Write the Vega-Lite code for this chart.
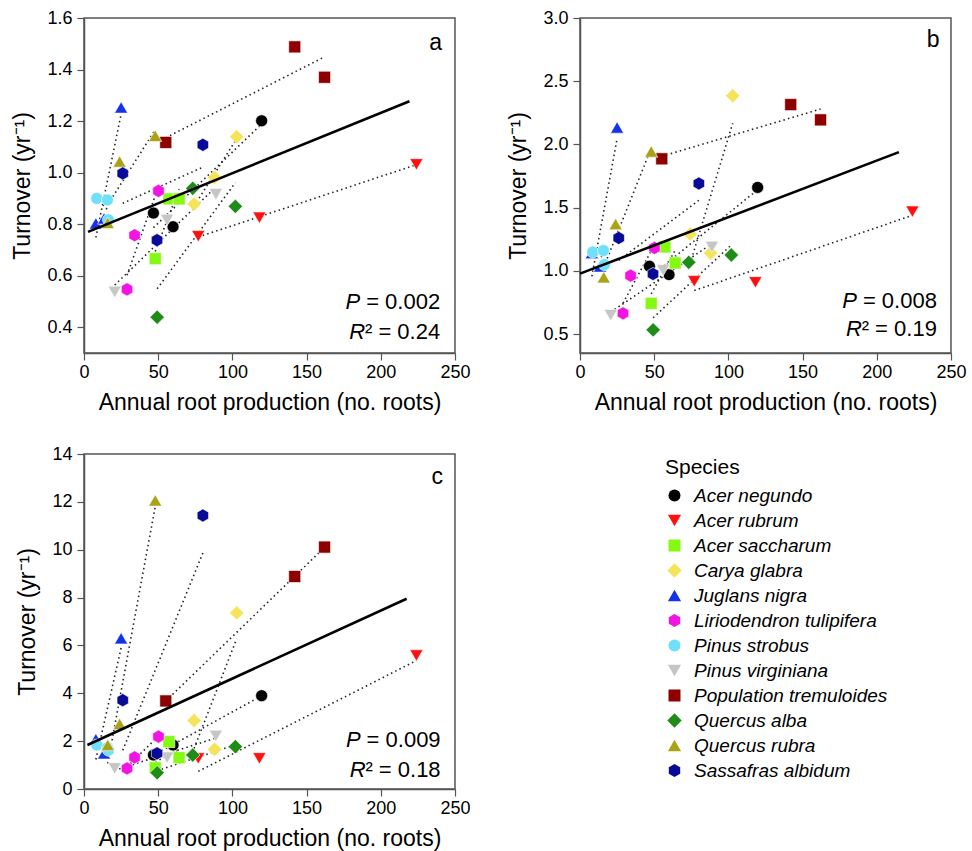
{
  "$schema": "https://vega.github.io/schema/vega-lite/v6.json",
  "padding": {"left": 11, "top": 8, "right": 5, "bottom": 5},
  "background": "white",
  "datasets": {
    "pts": [
      {"panel":"a","species":"Acer negundo","x":46.8,"y":0.843},
      {"panel":"a","species":"Acer negundo","x":60.0,"y":0.790},
      {"panel":"a","species":"Acer negundo","x":119.7,"y":1.201},
      {"panel":"a","species":"Acer rubrum","x":77.0,"y":0.753},
      {"panel":"a","species":"Acer rubrum","x":118.2,"y":0.825},
      {"panel":"a","species":"Acer rubrum","x":224.0,"y":1.032},
      {"panel":"a","species":"Acer saccharum","x":48.0,"y":0.666},
      {"panel":"a","species":"Acer saccharum","x":57.2,"y":0.898},
      {"panel":"a","species":"Acer saccharum","x":64.1,"y":0.898},
      {"panel":"a","species":"Carya glabra","x":74.2,"y":0.878},
      {"panel":"a","species":"Carya glabra","x":88.0,"y":0.981},
      {"panel":"a","species":"Carya glabra","x":102.9,"y":1.139},
      {"panel":"a","species":"Juglans nigra","x":8.0,"y":0.803},
      {"panel":"a","species":"Juglans nigra","x":13.5,"y":0.822},
      {"panel":"a","species":"Juglans nigra","x":25.0,"y":1.253},
      {"panel":"a","species":"Liriodendron tulipifera","x":29.0,"y":0.547},
      {"panel":"a","species":"Liriodendron tulipifera","x":34.1,"y":0.757},
      {"panel":"a","species":"Liriodendron tulipifera","x":50.2,"y":0.929},
      {"panel":"a","species":"Pinus strobus","x":8.6,"y":0.900},
      {"panel":"a","species":"Pinus strobus","x":15.8,"y":0.894},
      {"panel":"a","species":"Pinus strobus","x":16.5,"y":0.817},
      {"panel":"a","species":"Pinus virginiana","x":20.7,"y":0.537},
      {"panel":"a","species":"Pinus virginiana","x":56.0,"y":0.816},
      {"panel":"a","species":"Pinus virginiana","x":88.9,"y":0.916},
      {"panel":"a","species":"Population tremuloides","x":55.1,"y":1.117},
      {"panel":"a","species":"Population tremuloides","x":142.0,"y":1.488},
      {"panel":"a","species":"Population tremuloides","x":162.1,"y":1.370},
      {"panel":"a","species":"Quercus alba","x":49.3,"y":0.439},
      {"panel":"a","species":"Quercus alba","x":73.3,"y":0.939},
      {"panel":"a","species":"Quercus alba","x":102.0,"y":0.869},
      {"panel":"a","species":"Quercus rubra","x":16.0,"y":0.805},
      {"panel":"a","species":"Quercus rubra","x":24.0,"y":1.043},
      {"panel":"a","species":"Quercus rubra","x":48.0,"y":1.143},
      {"panel":"a","species":"Sassafras albidum","x":26.1,"y":0.997},
      {"panel":"a","species":"Sassafras albidum","x":49.2,"y":0.738},
      {"panel":"a","species":"Sassafras albidum","x":80.1,"y":1.108},

      {"panel":"b","species":"Acer negundo","x":46.8,"y":1.036},
      {"panel":"b","species":"Acer negundo","x":60.0,"y":0.970},
      {"panel":"b","species":"Acer negundo","x":119.7,"y":1.660},
      {"panel":"b","species":"Acer rubrum","x":77.0,"y":0.917},
      {"panel":"b","species":"Acer rubrum","x":118.2,"y":0.909},
      {"panel":"b","species":"Acer rubrum","x":224.0,"y":1.468},
      {"panel":"b","species":"Acer saccharum","x":48.0,"y":0.743},
      {"panel":"b","species":"Acer saccharum","x":57.2,"y":1.189},
      {"panel":"b","species":"Acer saccharum","x":64.1,"y":1.062},
      {"panel":"b","species":"Carya glabra","x":74.2,"y":1.291},
      {"panel":"b","species":"Carya glabra","x":88.0,"y":1.141},
      {"panel":"b","species":"Carya glabra","x":102.9,"y":2.384},
      {"panel":"b","species":"Juglans nigra","x":8.0,"y":1.141},
      {"panel":"b","species":"Juglans nigra","x":13.5,"y":1.035},
      {"panel":"b","species":"Juglans nigra","x":25.0,"y":2.134},
      {"panel":"b","species":"Liriodendron tulipifera","x":29.0,"y":0.664},
      {"panel":"b","species":"Liriodendron tulipifera","x":34.1,"y":0.962},
      {"panel":"b","species":"Liriodendron tulipifera","x":50.2,"y":1.181},
      {"panel":"b","species":"Pinus strobus","x":8.6,"y":1.149},
      {"panel":"b","species":"Pinus strobus","x":15.8,"y":1.160},
      {"panel":"b","species":"Pinus strobus","x":16.5,"y":1.049},
      {"panel":"b","species":"Pinus virginiana","x":20.7,"y":0.649},
      {"panel":"b","species":"Pinus virginiana","x":56.0,"y":1.004},
      {"panel":"b","species":"Pinus virginiana","x":88.9,"y":1.189},
      {"panel":"b","species":"Population tremuloides","x":55.1,"y":1.886},
      {"panel":"b","species":"Population tremuloides","x":142.0,"y":2.315},
      {"panel":"b","species":"Population tremuloides","x":162.1,"y":2.194},
      {"panel":"b","species":"Quercus alba","x":49.3,"y":0.533},
      {"panel":"b","species":"Quercus alba","x":73.3,"y":1.067},
      {"panel":"b","species":"Quercus alba","x":102.0,"y":1.125},
      {"panel":"b","species":"Quercus rubra","x":16.0,"y":0.949},
      {"panel":"b","species":"Quercus rubra","x":24.0,"y":1.370},
      {"panel":"b","species":"Quercus rubra","x":48.0,"y":1.944},
      {"panel":"b","species":"Sassafras albidum","x":26.1,"y":1.260},
      {"panel":"b","species":"Sassafras albidum","x":49.2,"y":0.975},
      {"panel":"b","species":"Sassafras albidum","x":80.1,"y":1.691},

      {"panel":"c","species":"Acer negundo","x":46.8,"y":1.42},
      {"panel":"c","species":"Acer negundo","x":60.0,"y":1.84},
      {"panel":"c","species":"Acer negundo","x":119.7,"y":3.90},
      {"panel":"c","species":"Acer rubrum","x":77.0,"y":1.28},
      {"panel":"c","species":"Acer rubrum","x":118.2,"y":1.28},
      {"panel":"c","species":"Acer rubrum","x":224.0,"y":5.58},
      {"panel":"c","species":"Acer saccharum","x":48.0,"y":0.89},
      {"panel":"c","species":"Acer saccharum","x":57.2,"y":1.98},
      {"panel":"c","species":"Acer saccharum","x":64.1,"y":1.31},
      {"panel":"c","species":"Carya glabra","x":74.2,"y":2.86},
      {"panel":"c","species":"Carya glabra","x":88.0,"y":1.66},
      {"panel":"c","species":"Carya glabra","x":102.9,"y":7.36},
      {"panel":"c","species":"Juglans nigra","x":8.0,"y":2.08},
      {"panel":"c","species":"Juglans nigra","x":13.5,"y":1.49},
      {"panel":"c","species":"Juglans nigra","x":25.0,"y":6.30},
      {"panel":"c","species":"Liriodendron tulipifera","x":29.0,"y":0.86},
      {"panel":"c","species":"Liriodendron tulipifera","x":34.1,"y":1.32},
      {"panel":"c","species":"Liriodendron tulipifera","x":50.2,"y":2.19},
      {"panel":"c","species":"Pinus strobus","x":8.6,"y":1.84},
      {"panel":"c","species":"Pinus strobus","x":15.8,"y":1.72},
      {"panel":"c","species":"Pinus strobus","x":16.5,"y":1.62},
      {"panel":"c","species":"Pinus virginiana","x":20.7,"y":0.86},
      {"panel":"c","species":"Pinus virginiana","x":56.0,"y":1.31},
      {"panel":"c","species":"Pinus virginiana","x":88.9,"y":2.22},
      {"panel":"c","species":"Population tremuloides","x":55.1,"y":3.68},
      {"panel":"c","species":"Population tremuloides","x":142.0,"y":8.88},
      {"panel":"c","species":"Population tremuloides","x":162.1,"y":10.11},
      {"panel":"c","species":"Quercus alba","x":49.3,"y":0.68},
      {"panel":"c","species":"Quercus alba","x":73.3,"y":1.42},
      {"panel":"c","species":"Quercus alba","x":102.0,"y":1.77},
      {"panel":"c","species":"Quercus rubra","x":16.0,"y":1.84},
      {"panel":"c","species":"Quercus rubra","x":24.0,"y":2.72},
      {"panel":"c","species":"Quercus rubra","x":48.0,"y":12.06},
      {"panel":"c","species":"Sassafras albidum","x":26.1,"y":3.71},
      {"panel":"c","species":"Sassafras albidum","x":49.2,"y":1.49},
      {"panel":"c","species":"Sassafras albidum","x":80.1,"y":11.43}
    ],
    "fit": [
      {"panel":"a","x":2.7,"y":0.770},
      {"panel":"a","x":219.3,"y":1.277},
      {"panel":"b","x":0.0,"y":0.978},
      {"panel":"b","x":214.9,"y":1.939},
      {"panel":"c","x":2.3,"y":1.84},
      {"panel":"c","x":217.4,"y":7.95}
    ],
    "notes": [
      {"panel":"a","kind":"letter","x":237,"y":1.504,"t":"a"},
      {"panel":"a","kind":"P","x":240,"y":0.497,"t":"= 0.002"},
      {"panel":"a","kind":"R","x":240,"y":0.381,"t":"² = 0.24"},
      {"panel":"b","kind":"letter","x":238,"y":2.826,"t":"b"},
      {"panel":"b","kind":"P","x":240.5,"y":0.759,"t":"= 0.008"},
      {"panel":"b","kind":"R","x":240.5,"y":0.536,"t":"² = 0.19"},
      {"panel":"c","kind":"letter","x":238,"y":13.02,"t":"c"},
      {"panel":"c","kind":"P","x":240.3,"y":2.05,"t":"= 0.009"},
      {"panel":"c","kind":"R","x":240.3,"y":0.79,"t":"² = 0.18"}
    ]
  },
  "columns": 2,
  "spacing": {"row": 101, "column": 125},
  "bounds": "flush",
  "concat": [
    {
      "width": 371, "height": 335,
      "layer": [
        {
          "data": {"name": "pts"},
          "transform": [{"filter": "datum.panel === 'a'"}, {"regression": "y", "on": "x", "groupby": ["species"]}],
          "mark": {"type": "line", "strokeDash": [1.5, 3.2], "strokeWidth": 1.6, "color": "#222"},
          "encoding": {
            "x": {"field": "x", "type": "quantitative", "scale": {"domain": [0, 250], "nice": false, "zero": false}, "axis": {"values": [0, 50, 100, 150, 200, 250], "title": "Annual root production (no. roots)"}},
            "y": {"field": "y", "type": "quantitative", "scale": {"domain": [0.3, 1.6], "nice": false, "zero": false}, "axis": {"values": [0.4, 0.6, 0.8, 1.0, 1.2, 1.4, 1.6], "format": ".1f", "title": "Turnover (yr⁻¹)"}},
            "detail": {"field": "species"}
          }
        },
        {
          "data": {"name": "pts"},
          "transform": [{"filter": "datum.panel === 'a'"}],
          "mark": {"type": "point", "filled": true, "size": 144, "opacity": 1, "stroke": "white", "strokeWidth": 0.6},
          "encoding": {
            "x": {"field": "x", "type": "quantitative"},
            "y": {"field": "y", "type": "quantitative"},
            "color": {"field": "species", "type": "nominal", "scale": {"domain": ["Acer negundo","Acer rubrum","Acer saccharum","Carya glabra","Juglans nigra","Liriodendron tulipifera","Pinus strobus","Pinus virginiana","Population tremuloides","Quercus alba","Quercus rubra","Sassafras albidum"], "range": ["#000000","#ff1010","#84fa12","#f4e45a","#1432e8","#f214e2","#6fe0fa","#c6c6c6","#8e0000","#1f8c17","#aaa315","#0a0a98"]}, "legend": {"title": "Species", "orient": "none", "legendX": 581, "legendY": 439}},
            "shape": {"field": "species", "type": "nominal", "scale": {"domain": ["Acer negundo","Acer rubrum","Acer saccharum","Carya glabra","Juglans nigra","Liriodendron tulipifera","Pinus strobus","Pinus virginiana","Population tremuloides","Quercus alba","Quercus rubra","Sassafras albidum"], "range": ["circle","M0,0.95L1.1,-0.95L-1.1,-0.95Z","square","M0,-1.2L1.2,0L0,1.2L-1.2,0Z","M0,-0.95L1.1,0.95L-1.1,0.95Z","M0,-1.1L0.95,-0.55L0.95,0.55L0,1.1L-0.95,0.55L-0.95,-0.55Z","circle","M0,0.95L1.1,-0.95L-1.1,-0.95Z","square","M0,-1.2L1.2,0L0,1.2L-1.2,0Z","M0,-0.95L1.1,0.95L-1.1,0.95Z","M0,-1.1L0.95,-0.55L0.95,0.55L0,1.1L-0.95,0.55L-0.95,-0.55Z"]}, "legend": {"title": "Species", "orient": "none", "legendX": 581, "legendY": 439}}
          }
        },
        {
          "data": {"name": "fit"},
          "transform": [{"filter": "datum.panel === 'a'"}],
          "mark": {"type": "line", "strokeWidth": 2.6, "color": "#000"},
          "encoding": {"x": {"field": "x", "type": "quantitative"}, "y": {"field": "y", "type": "quantitative"}}
        },
        {
          "data": {"name": "notes"},
          "transform": [{"filter": "datum.panel === 'a' && datum.kind === 'letter'"}],
          "mark": {"type": "text", "fontSize": 23, "align": "center", "baseline": "middle", "color": "#000"},
          "encoding": {"x": {"field": "x", "type": "quantitative"}, "y": {"field": "y", "type": "quantitative"}, "text": {"field": "t"}}
        },
        {
          "data": {"name": "notes"},
          "transform": [{"filter": "datum.panel === 'a' && datum.kind !== 'letter'"}],
          "mark": {"type": "text", "fontSize": 22, "align": "right", "baseline": "middle", "color": "#000"},
          "encoding": {"x": {"field": "x", "type": "quantitative"}, "y": {"field": "y", "type": "quantitative"}, "text": {"field": "t"}}
        },
        {
          "data": {"name": "notes"},
          "transform": [{"filter": "datum.panel === 'a' && datum.kind === 'P'"}],
          "mark": {"type": "text", "fontSize": 22, "fontStyle": "italic", "align": "right", "baseline": "middle", "dx": -80, "color": "#000"},
          "encoding": {"x": {"field": "x", "type": "quantitative"}, "y": {"field": "y", "type": "quantitative"}, "text": {"value": "P"}}
        },
        {
          "data": {"name": "notes"},
          "transform": [{"filter": "datum.panel === 'a' && datum.kind === 'R'"}],
          "mark": {"type": "text", "fontSize": 22, "fontStyle": "italic", "align": "right", "baseline": "middle", "dx": -75, "color": "#000"},
          "encoding": {"x": {"field": "x", "type": "quantitative"}, "y": {"field": "y", "type": "quantitative"}, "text": {"value": "R"}}
        }
      ]
    },
    {
      "width": 371, "height": 335,
      "layer": [
        {
          "data": {"name": "pts"},
          "transform": [{"filter": "datum.panel === 'b'"}, {"regression": "y", "on": "x", "groupby": ["species"]}],
          "mark": {"type": "line", "strokeDash": [1.5, 3.2], "strokeWidth": 1.6, "color": "#222"},
          "encoding": {
            "x": {"field": "x", "type": "quantitative", "scale": {"domain": [0, 250], "nice": false, "zero": false}, "axis": {"values": [0, 50, 100, 150, 200, 250], "title": "Annual root production (no. roots)"}},
            "y": {"field": "y", "type": "quantitative", "scale": {"domain": [0.35, 3.0], "nice": false, "zero": false}, "axis": {"values": [0.5, 1.0, 1.5, 2.0, 2.5, 3.0], "format": ".1f", "title": "Turnover (yr⁻¹)"}},
            "detail": {"field": "species"}
          }
        },
        {
          "data": {"name": "pts"},
          "transform": [{"filter": "datum.panel === 'b'"}],
          "mark": {"type": "point", "filled": true, "size": 144, "opacity": 1, "stroke": "white", "strokeWidth": 0.6},
          "encoding": {
            "x": {"field": "x", "type": "quantitative"},
            "y": {"field": "y", "type": "quantitative"},
            "color": {"field": "species", "type": "nominal", "scale": {"domain": ["Acer negundo","Acer rubrum","Acer saccharum","Carya glabra","Juglans nigra","Liriodendron tulipifera","Pinus strobus","Pinus virginiana","Population tremuloides","Quercus alba","Quercus rubra","Sassafras albidum"], "range": ["#000000","#ff1010","#84fa12","#f4e45a","#1432e8","#f214e2","#6fe0fa","#c6c6c6","#8e0000","#1f8c17","#aaa315","#0a0a98"]}, "legend": {"title": "Species", "orient": "none", "legendX": 581, "legendY": 439}},
            "shape": {"field": "species", "type": "nominal", "scale": {"domain": ["Acer negundo","Acer rubrum","Acer saccharum","Carya glabra","Juglans nigra","Liriodendron tulipifera","Pinus strobus","Pinus virginiana","Population tremuloides","Quercus alba","Quercus rubra","Sassafras albidum"], "range": ["circle","M0,0.95L1.1,-0.95L-1.1,-0.95Z","square","M0,-1.2L1.2,0L0,1.2L-1.2,0Z","M0,-0.95L1.1,0.95L-1.1,0.95Z","M0,-1.1L0.95,-0.55L0.95,0.55L0,1.1L-0.95,0.55L-0.95,-0.55Z","circle","M0,0.95L1.1,-0.95L-1.1,-0.95Z","square","M0,-1.2L1.2,0L0,1.2L-1.2,0Z","M0,-0.95L1.1,0.95L-1.1,0.95Z","M0,-1.1L0.95,-0.55L0.95,0.55L0,1.1L-0.95,0.55L-0.95,-0.55Z"]}, "legend": {"title": "Species", "orient": "none", "legendX": 581, "legendY": 439}}
          }
        },
        {
          "data": {"name": "fit"},
          "transform": [{"filter": "datum.panel === 'b'"}],
          "mark": {"type": "line", "strokeWidth": 2.6, "color": "#000"},
          "encoding": {"x": {"field": "x", "type": "quantitative"}, "y": {"field": "y", "type": "quantitative"}}
        },
        {
          "data": {"name": "notes"},
          "transform": [{"filter": "datum.panel === 'b' && datum.kind === 'letter'"}],
          "mark": {"type": "text", "fontSize": 23, "align": "center", "baseline": "middle", "color": "#000"},
          "encoding": {"x": {"field": "x", "type": "quantitative"}, "y": {"field": "y", "type": "quantitative"}, "text": {"field": "t"}}
        },
        {
          "data": {"name": "notes"},
          "transform": [{"filter": "datum.panel === 'b' && datum.kind !== 'letter'"}],
          "mark": {"type": "text", "fontSize": 22, "align": "right", "baseline": "middle", "color": "#000"},
          "encoding": {"x": {"field": "x", "type": "quantitative"}, "y": {"field": "y", "type": "quantitative"}, "text": {"field": "t"}}
        },
        {
          "data": {"name": "notes"},
          "transform": [{"filter": "datum.panel === 'b' && datum.kind === 'P'"}],
          "mark": {"type": "text", "fontSize": 22, "fontStyle": "italic", "align": "right", "baseline": "middle", "dx": -80, "color": "#000"},
          "encoding": {"x": {"field": "x", "type": "quantitative"}, "y": {"field": "y", "type": "quantitative"}, "text": {"value": "P"}}
        },
        {
          "data": {"name": "notes"},
          "transform": [{"filter": "datum.panel === 'b' && datum.kind === 'R'"}],
          "mark": {"type": "text", "fontSize": 22, "fontStyle": "italic", "align": "right", "baseline": "middle", "dx": -75, "color": "#000"},
          "encoding": {"x": {"field": "x", "type": "quantitative"}, "y": {"field": "y", "type": "quantitative"}, "text": {"value": "R"}}
        }
      ]
    },
    {
      "width": 371, "height": 335,
      "layer": [
        {
          "data": {"name": "pts"},
          "transform": [{"filter": "datum.panel === 'c'"}, {"regression": "y", "on": "x", "groupby": ["species"]}],
          "mark": {"type": "line", "strokeDash": [1.5, 3.2], "strokeWidth": 1.6, "color": "#222"},
          "encoding": {
            "x": {"field": "x", "type": "quantitative", "scale": {"domain": [0, 250], "nice": false, "zero": false}, "axis": {"values": [0, 50, 100, 150, 200, 250], "title": "Annual root production (no. roots)"}},
            "y": {"field": "y", "type": "quantitative", "scale": {"domain": [0, 14], "nice": false, "zero": false}, "axis": {"values": [0, 2, 4, 6, 8, 10, 12, 14], "format": "d", "title": "Turnover (yr⁻¹)"}},
            "detail": {"field": "species"}
          }
        },
        {
          "data": {"name": "pts"},
          "transform": [{"filter": "datum.panel === 'c'"}],
          "mark": {"type": "point", "filled": true, "size": 144, "opacity": 1, "stroke": "white", "strokeWidth": 0.6},
          "encoding": {
            "x": {"field": "x", "type": "quantitative"},
            "y": {"field": "y", "type": "quantitative"},
            "color": {"field": "species", "type": "nominal", "scale": {"domain": ["Acer negundo","Acer rubrum","Acer saccharum","Carya glabra","Juglans nigra","Liriodendron tulipifera","Pinus strobus","Pinus virginiana","Population tremuloides","Quercus alba","Quercus rubra","Sassafras albidum"], "range": ["#000000","#ff1010","#84fa12","#f4e45a","#1432e8","#f214e2","#6fe0fa","#c6c6c6","#8e0000","#1f8c17","#aaa315","#0a0a98"]}, "legend": {"title": "Species", "orient": "none", "legendX": 581, "legendY": 439}},
            "shape": {"field": "species", "type": "nominal", "scale": {"domain": ["Acer negundo","Acer rubrum","Acer saccharum","Carya glabra","Juglans nigra","Liriodendron tulipifera","Pinus strobus","Pinus virginiana","Population tremuloides","Quercus alba","Quercus rubra","Sassafras albidum"], "range": ["circle","M0,0.95L1.1,-0.95L-1.1,-0.95Z","square","M0,-1.2L1.2,0L0,1.2L-1.2,0Z","M0,-0.95L1.1,0.95L-1.1,0.95Z","M0,-1.1L0.95,-0.55L0.95,0.55L0,1.1L-0.95,0.55L-0.95,-0.55Z","circle","M0,0.95L1.1,-0.95L-1.1,-0.95Z","square","M0,-1.2L1.2,0L0,1.2L-1.2,0Z","M0,-0.95L1.1,0.95L-1.1,0.95Z","M0,-1.1L0.95,-0.55L0.95,0.55L0,1.1L-0.95,0.55L-0.95,-0.55Z"]}, "legend": {"title": "Species", "orient": "none", "legendX": 581, "legendY": 439}}
          }
        },
        {
          "data": {"name": "fit"},
          "transform": [{"filter": "datum.panel === 'c'"}],
          "mark": {"type": "line", "strokeWidth": 2.6, "color": "#000"},
          "encoding": {"x": {"field": "x", "type": "quantitative"}, "y": {"field": "y", "type": "quantitative"}}
        },
        {
          "data": {"name": "notes"},
          "transform": [{"filter": "datum.panel === 'c' && datum.kind === 'letter'"}],
          "mark": {"type": "text", "fontSize": 23, "align": "center", "baseline": "middle", "color": "#000"},
          "encoding": {"x": {"field": "x", "type": "quantitative"}, "y": {"field": "y", "type": "quantitative"}, "text": {"field": "t"}}
        },
        {
          "data": {"name": "notes"},
          "transform": [{"filter": "datum.panel === 'c' && datum.kind !== 'letter'"}],
          "mark": {"type": "text", "fontSize": 22, "align": "right", "baseline": "middle", "color": "#000"},
          "encoding": {"x": {"field": "x", "type": "quantitative"}, "y": {"field": "y", "type": "quantitative"}, "text": {"field": "t"}}
        },
        {
          "data": {"name": "notes"},
          "transform": [{"filter": "datum.panel === 'c' && datum.kind === 'P'"}],
          "mark": {"type": "text", "fontSize": 22, "fontStyle": "italic", "align": "right", "baseline": "middle", "dx": -80, "color": "#000"},
          "encoding": {"x": {"field": "x", "type": "quantitative"}, "y": {"field": "y", "type": "quantitative"}, "text": {"value": "P"}}
        },
        {
          "data": {"name": "notes"},
          "transform": [{"filter": "datum.panel === 'c' && datum.kind === 'R'"}],
          "mark": {"type": "text", "fontSize": 22, "fontStyle": "italic", "align": "right", "baseline": "middle", "dx": -75, "color": "#000"},
          "encoding": {"x": {"field": "x", "type": "quantitative"}, "y": {"field": "y", "type": "quantitative"}, "text": {"value": "R"}}
        }
      ]
    }
  ],
  "config": {
    "font": "Liberation Sans",
    "view": {"stroke": "#555", "strokeWidth": 1.5},
    "axis": {"labelFontSize": 18, "titleFontSize": 23, "titleFontWeight": "normal", "labelColor": "#000", "titleColor": "#000", "domainColor": "#555", "domainWidth": 1.5, "tickColor": "#555", "tickWidth": 1.2, "tickSize": 7, "grid": false, "labelFlush": false, "labelOverlap": false, "labelFont": "Liberation Sans", "titleFont": "Liberation Sans"},
    "axisX": {"labelPadding": 3, "titlePadding": 10},
    "axisY": {"labelPadding": 5, "titlePadding": 12},
    "legend": {"titleFontSize": 21, "titleFontWeight": "normal", "titleColor": "#000", "titleFont": "Liberation Sans", "labelFontSize": 19, "labelFontStyle": "italic", "labelColor": "#000", "labelFont": "Liberation Sans", "labelLimit": 0, "symbolSize": 144, "symbolStrokeWidth": 0, "rowPadding": 5, "labelOffset": 10, "titlePadding": 8, "padding": 0}
  }
}
